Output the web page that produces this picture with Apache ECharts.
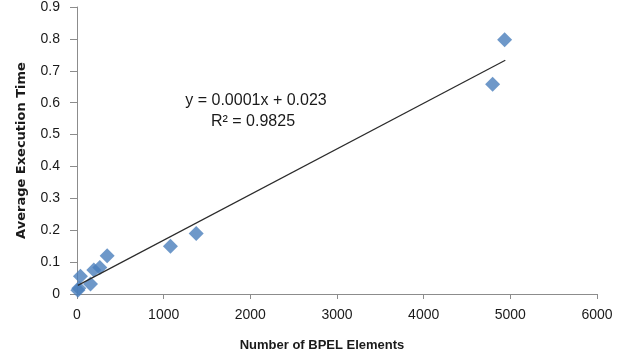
<!doctype html>
<html>
<head>
<meta charset="utf-8">
<title>Average Execution Time</title>
<script src="https://cdn.jsdelivr.net/npm/echarts@6/dist/echarts.min.js"></script>
<style>
  html, body { margin: 0; padding: 0; background: #fff; }
  #mainChart { width: 631px; height: 360px; }
</style>
</head>
<body>
<div id="mainChart"></div>
<script>
// measured points: number of BPEL elements vs average execution time
var elements = [10, 21, 40, 156, 194, 263, 348, 1078, 1375, 4796, 4934];
var execTime = [0.012, 0.018, 0.056, 0.031, 0.075, 0.083, 0.12, 0.15, 0.19, 0.658, 0.797];

var trendX = [10, 4942];
var trendY = [0.027, 0.733];

var xTicks = { min: 0, max: 6000, step: 1000 };
var yTicks = { min: 0, max: 0.9, step: 0.1 };

var points = elements.map(function (x, i) { return [x, execTime[i]]; });
var trend = trendX.map(function (x, i) { return [x, trendY[i]]; });

var font = 'Liberation Sans, Arial, sans-serif';

var myChart = echarts.init(document.getElementById('mainChart'));

var option = {
    animation: false,
    grid: { left: 77, right: 34, top: 6, bottom: 66 },
    xAxis: {
        type: 'value',
        min: xTicks.min, max: xTicks.max, interval: xTicks.step,
        name: 'Number of BPEL Elements',
        nameLocation: 'middle',
        nameGap: 45,
        nameTextStyle: { color: '#1a1a1a', fontWeight: 'bold', fontSize: 13, fontFamily: font, padding: [0, 30, 0, 0] },
        axisLine: { lineStyle: { color: '#8c8c8c' } },
        axisTick: { show: true, length: 5, lineStyle: { color: '#8c8c8c' } },
        axisLabel: {
            color: '#1a1a1a', fontSize: 14, fontFamily: font, margin: 14,
            formatter: function (v) { return String(v); }
        },
        splitLine: { show: false }
    },
    yAxis: {
        type: 'value',
        min: yTicks.min, max: yTicks.max, interval: yTicks.step,
        name: 'Average Execution Time',
        nameLocation: 'middle',
        nameGap: 49,
        nameTextStyle: { color: '#1a1a1a', fontWeight: 'bold', fontSize: 13, fontFamily: 'DejaVu Sans, sans-serif' },
        axisLine: { show: true, lineStyle: { color: '#8c8c8c' } },
        axisTick: { show: true, length: 7, lineStyle: { color: '#8c8c8c' } },
        axisLabel: { color: '#1a1a1a', fontSize: 14, fontFamily: font, margin: 17 },
        splitLine: { show: false }
    },
    graphic: [
        {
            type: 'text', x: 256, y: 101,
            style: { text: 'y = 0.0001x + 0.023', fill: '#1a1a1a', font: '16px ' + font, align: 'center', verticalAlign: 'middle' }
        },
        {
            type: 'text', x: 253, y: 122,
            style: { text: 'R² = 0.9825', fill: '#1a1a1a', font: '16px ' + font, align: 'center', verticalAlign: 'middle' }
        }
    ],
    series: [
        {
            type: 'line',
            data: trend,
            symbol: 'none',
            lineStyle: { color: '#2b2b2b', width: 1.2 },
            z: 3
        },
        {
            type: 'scatter',
            data: points,
            symbol: 'diamond',
            symbolSize: [15, 15],
            itemStyle: { color: '#4a7ebb' },
            z: 2
        }
    ]
};

myChart.setOption(option);
</script>
</body>
</html>
